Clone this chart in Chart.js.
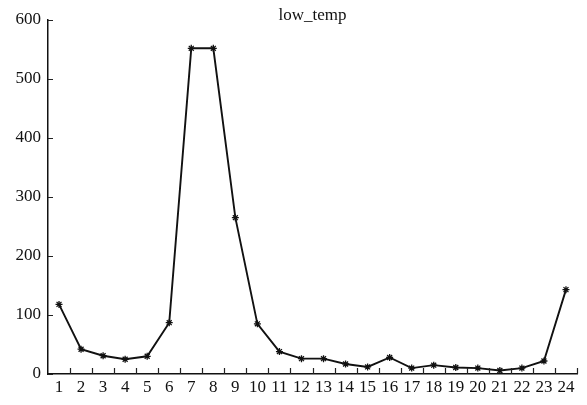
<!DOCTYPE html>
<html>
<head>
<meta charset="utf-8">
<script src="https://cdn.jsdelivr.net/npm/chart.js@4.4.0/dist/chart.umd.min.js"></script>
<style>
  html, body { margin: 0; padding: 0; background: #fff; }
  #wrap { width: 587px; height: 405px; }
</style>
</head>
<body>
<div id="wrap"><canvas id="chart"></canvas></div>
<script>
// categorias (hora) y valores
const hours = ['1','2','3','4','5','6','7','8','9','10','11','12','13','14','15','16','17','18','19','20','21','22','23','24'];
const lowTemp = [118, 42, 31, 25, 30, 87, 552, 552, 265, 85, 38, 26, 26, 17, 12, 28, 10, 15, 11, 10, 6, 10, 22, 143];
const yTicks = [0, 100, 200, 300, 400, 500, 600];
const chartTitle = 'low_temp';

const serif = '"Liberation Serif", "DejaVu Serif", serif';

// marcas cortas hacia dentro en ambos ejes + titulo
const innerTicks = {
    id: 'innerTicks',
    afterDraw(chart) {
        const ctx = chart.ctx;
        const area = chart.chartArea;
        const x = chart.scales.x;
        const y = chart.scales.y;
        const step = x.getPixelForValue(1) - x.getPixelForValue(0);
        ctx.save();
        ctx.strokeStyle = '#222';
        ctx.lineWidth = 1.2;
        ctx.beginPath();
        y.ticks.forEach((t, i) => {
            const py = Math.round(y.getPixelForTick(i)) + 0.5;
            ctx.moveTo(area.left, py);
            ctx.lineTo(area.left + 5, py);
        });
        // entre categorias y en el extremo derecho
        for (let i = 0; i < hours.length; i++) {
            const px = Math.round(x.getPixelForValue(i) + step / 2) + 0.5;
            ctx.moveTo(px, area.bottom);
            ctx.lineTo(px, area.bottom - 6);
        }
        ctx.stroke();

        ctx.fillStyle = '#111';
        ctx.font = '17px ' + serif;
        ctx.textAlign = 'center';
        ctx.textBaseline = 'middle';
        ctx.fillText(chartTitle, (area.left + area.right) / 2, area.top - 4);
        ctx.restore();
    }
};

new Chart(document.getElementById('chart'), {
    type: 'line',
    data: {
        labels: hours,
        datasets: [{
            label: chartTitle,
            data: lowTemp,
            borderColor: '#111',
            borderWidth: 1.9,
            pointStyle: 'star',
            pointRadius: 3.5,
            pointBorderWidth: 1.3,
            pointBorderColor: '#111',
            pointBackgroundColor: '#111',
            tension: 0,
            fill: false
        }]
    },
    options: {
        responsive: true,
        maintainAspectRatio: false,
        animation: false,
        layout: { padding: { left: 0, top: 20, right: 10, bottom: 0 } },
        plugins: {
            legend: { display: false },
            title: { display: false },
            tooltip: { enabled: false }
        },
        scales: {
            x: {
                type: 'category',
                offset: true,
                grid: { display: true, offset: true, drawOnChartArea: false, drawTicks: false },
                border: { display: true, color: '#111', width: 1.5 },
                ticks: {
                    color: '#111',
                    font: { family: serif, size: 17 },
                    padding: 3,
                    maxRotation: 0,
                    autoSkip: false
                },
                afterFit(scale) { scale.height = 31; }
            },
            y: {
                min: 0,
                max: 600,
                afterBuildTicks(scale) { scale.ticks = yTicks.map(v => ({ value: v })); },
                grid: { display: true, drawOnChartArea: false, drawTicks: false },
                border: { display: true, color: '#111', width: 1.5 },
                ticks: {
                    color: '#111',
                    font: { family: serif, size: 17 },
                    padding: 7
                },
                afterFit(scale) { scale.width = 48; }
            }
        }
    },
    plugins: [innerTicks]
});
</script>
</body>
</html>
